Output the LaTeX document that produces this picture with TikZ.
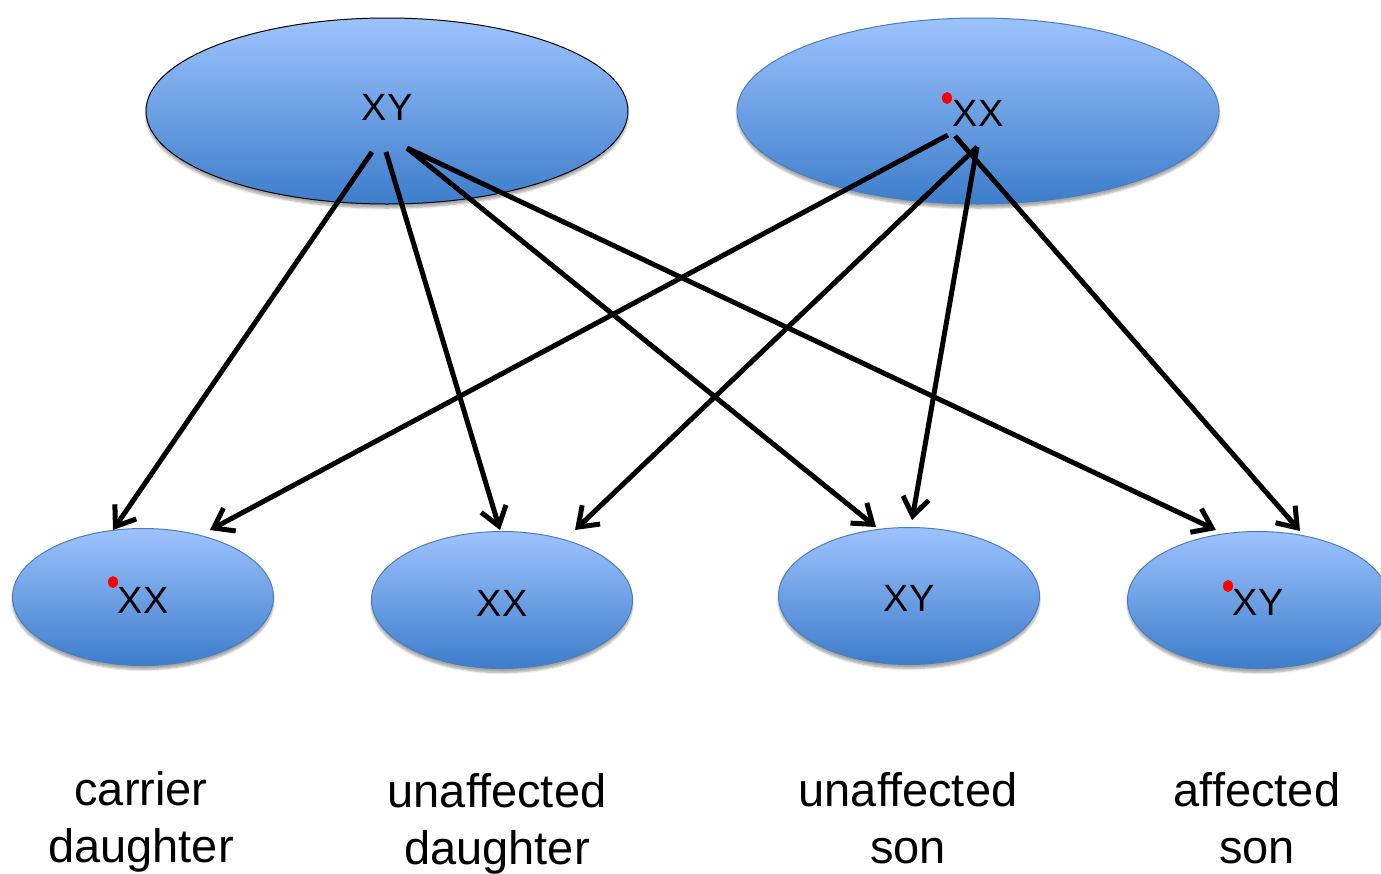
\documentclass[tikz,border=0pt]{standalone}
\usepackage{fontspec}
\setmainfont{Liberation Sans}
\usetikzlibrary{arrows.meta,shapes.geometric,shadows.blur}
\definecolor{topblue}{HTML}{9DC3FD}
\definecolor{botblue}{HTML}{3D7DCB}
\definecolor{edgeblue}{HTML}{4A7EBB}
\definecolor{dotred}{HTML}{FF0000}
\tikzset{
  cell/.style={ellipse, draw=edgeblue, line width=1pt, top color=topblue, bottom color=botblue,
    blur shadow={shadow xshift=0pt, shadow yshift=-4pt, shadow blur steps=6, shadow opacity=35}},
  bigcell/.style={cell, minimum width=482pt, minimum height=186pt},
  smallcell/.style={cell, minimum width=261pt, minimum height=137pt},
  chrom/.style={font=\fontsize{38}{38}\selectfont, inner sep=0pt},
  lab/.style={font=\fontsize{47}{57}\selectfont, align=center, inner sep=0pt},
  reddot/.style={ellipse, fill=dotred, inner sep=0pt, minimum width=10pt, minimum height=12pt},
  inherit/.style={line width=5pt, -{Straight Barb[length=18pt,width=26pt]}}
}
\begin{document}
\begin{tikzpicture}[x=1pt,y=-1pt]
\useasboundingbox (0,0) rectangle (1381,873);
% parents
\node[bigcell, draw=black] (father) at (387,111) {};
\node[bigcell] (mother) at (978,111) {};
% children
\node[smallcell] (c1) at (143,597) {};
\node[smallcell] (c2) at (502,600) {};
\node[smallcell] (c3) at (909,596) {};
\node[smallcell] (c4) at (1258,600) {};
% texts
\node[chrom] (tf) at (387,107) {XY};
\node[chrom] (tm) at (978,113) {XX};
\node[reddot] (dm) at (947,98) {};
\node[chrom] (t1) at (143,600) {XX};
\node[reddot] (d1) at (113,582) {};
\node[chrom] (t2) at (502,603) {XX};
\node[chrom] (t3) at (909,598) {XY};
\node[chrom] (t4) at (1258,602) {XY};
\node[reddot] (d4) at (1228,586) {};
% labels
\node[lab] (l1) at (141,822) {carrier\\daughter};
\node[lab] (l2) at (497,824) {unaffected\\daughter};
\node[lab] (l3) at (908,818) {unaffected\\son};
\node[lab] (l4) at (1257,818) {affected\\son};
% connector anchors
\coordinate (f1) at (372,152);
\coordinate (f2) at (386,152);
\coordinate (f3) at (407,148);
\coordinate (m1) at (948,135);
\coordinate (m2) at (955,136);
\coordinate (m3) at (977,147);
\coordinate (e1a) at (113,530);
\coordinate (e1b) at (210,530);
\coordinate (e2a) at (500,530);
\coordinate (e2b) at (575,530);
\coordinate (e3a) at (876,527);
\coordinate (e3b) at (912,520);
\coordinate (e4a) at (1216,530);
\coordinate (e4b) at (1300,531);
% arrows
\draw[inherit] (f1) -- (e1a);
\draw[inherit] (f2) -- (e2a);
\draw[inherit] (f3) -- (e3a);
\draw[inherit] (f3) -- (e4a);
\draw[inherit] (m1) -- (e1b);
\draw[inherit] (m3) -- (e2b);
\draw[inherit] (m3) -- (e3b);
\draw[inherit] (m2) -- (e4b);
\end{tikzpicture}
\end{document}
